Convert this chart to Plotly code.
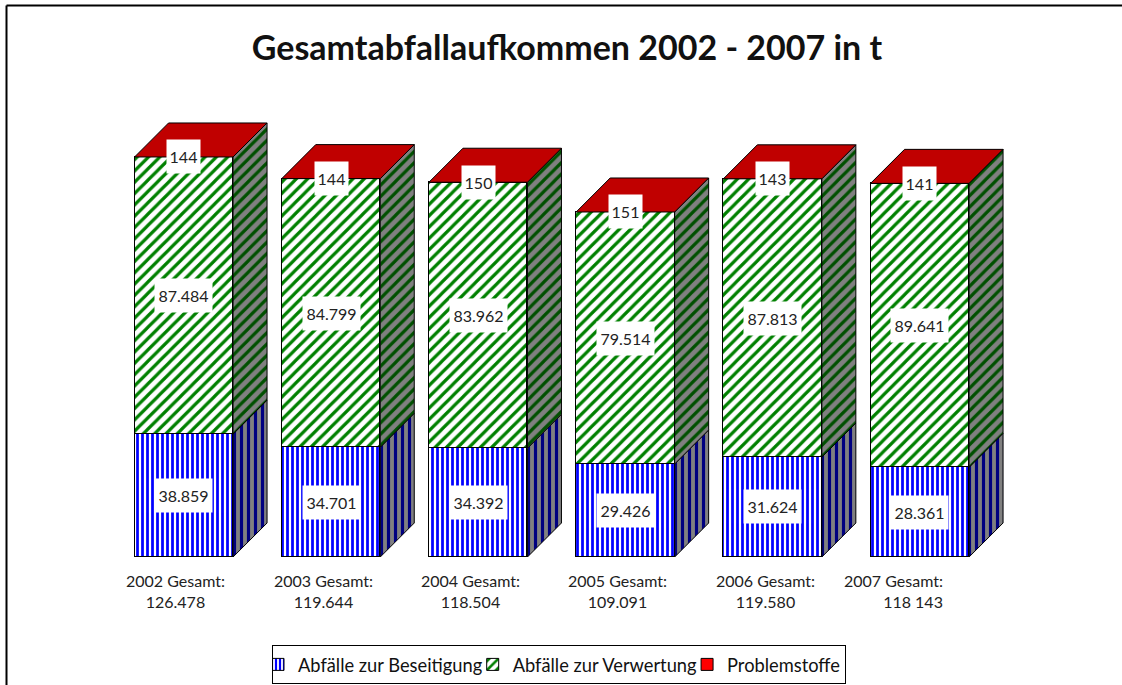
import plotly.graph_objects as go

years = ["2002", "2003", "2004", "2005", "2006", "2007"]
beseitigung = [38859, 34701, 34392, 29426, 31624, 28361]
verwertung = [87484, 84799, 83962, 79514, 87813, 89641]
problemstoffe = [144, 144, 150, 151, 143, 141]
gesamt_text = ["126.478", "119.644", "118.504", "109.091", "119.580", "118 143"]
label_beseitigung = ["38.859", "34.701", "34.392", "29.426", "31.624", "28.361"]
label_verwertung = ["87.484", "84.799", "83.962", "79.514", "87.813", "89.641"]
label_problem = ["144", "144", "150", "151", "143", "141"]
series_names = ["Abfälle zur Beseitigung", "Abfälle zur Verwertung", "Problemstoffe"]

W, H = 1122, 685
FONT = "Lato"
PITCH, X0 = 147.2, 183.8      # px between bars, px of first bar centre
Y0, PX_PER_T = 557, 400 / 126478
BAR_W = 98.5 / PITCH
DX, DY = 34 / PITCH, 34 / PX_PER_T

x_range = [(0 - X0) / PITCH, (W - X0) / PITCH]
y_range = [(Y0 - H) / PX_PER_T, Y0 / PX_PER_T]
xs = list(range(len(years)))

fig = go.Figure()
bar_styles = [
    dict(shape="|", fgcolor="#0000FF", bgcolor="white", size=5, solidity=0.55, fgopacity=1),
    dict(shape="/", fgcolor="#008000", bgcolor="white", size=8, solidity=0.4, fgopacity=1),
    dict(shape="", fgcolor="#FF0000", bgcolor="#FF0000"),
]
colors = ["#0000FF", "#008000", "#FF0000"]
for name, vals, pat, col in zip(series_names, [beseitigung, verwertung, problemstoffe], bar_styles, colors):
    fig.add_bar(x=xs, y=vals, name=name, width=BAR_W,
                marker=dict(color=col if not pat["shape"] else "white", pattern=pat,
                            line=dict(color="black", width=1)))


def side_trace(lows, highs, fg):
    px, py = [], []
    for i, (lo, hi) in enumerate(zip(lows, highs)):
        r = i + BAR_W / 2
        px += [r, r + DX, r + DX, r, r, None]
        py += [lo, lo + DY, hi + DY, hi, lo, None]
    return go.Scatter(x=px, y=py, mode="lines", fill="toself", fillcolor="#808080",
                      fillpattern=fg, line=dict(color="black", width=1),
                      hoverinfo="skip", showlegend=False)


b_top = beseitigung
v_top = [a + b for a, b in zip(beseitigung, verwertung)]
p_top = [a + b for a, b in zip(v_top, problemstoffe)]
fig.add_trace(side_trace([0] * 6, b_top,
                         dict(shape="|", fgcolor="#000080", bgcolor="#808080", size=7, solidity=0.45, fgopacity=1)))
fig.add_trace(side_trace(b_top, p_top,
                         dict(shape="/", fgcolor="#005000", bgcolor="#808080", size=8, solidity=0.4, fgopacity=1)))

tx, ty = [], []
for i, t in enumerate(p_top):
    l, r = i - BAR_W / 2, i + BAR_W / 2
    tx += [l, r, r + DX, l + DX, l, None]
    ty += [t, t, t + DY, t + DY, t, None]
fig.add_trace(go.Scatter(x=tx, y=ty, mode="lines", fill="toself", fillcolor="#C00000",
                         line=dict(color="black", width=1), hoverinfo="skip", showlegend=False))

box = dict(showarrow=False, bgcolor="white", borderpad=0, height=33, valign="middle", align="center",
           font=dict(family=FONT, size=16, color="#222222"))
for i in xs:
    fig.add_annotation(x=i, y=b_top[i] / 2, text=label_beseitigung[i], width=57, **box)
    fig.add_annotation(x=i, y=b_top[i] + verwertung[i] / 2, text=label_verwertung[i], width=57, **box)
    fig.add_annotation(x=i, y=p_top[i], text=label_problem[i], width=33, **box)

shifts = [-8.5, -7.2, -7.4, -7.6, -6.8, -26]
for i in xs:
    fig.add_annotation(x=i, y=0, yanchor="top", yshift=-12, xshift=shifts[i], showarrow=False,
                       text=f"{years[i]} Gesamt:<br>{gesamt_text[i]}",
                       align="right" if i == 5 else "center",
                       font=dict(family=FONT, size=16, color="#222222"))

# frame lines on the top and left edge of the picture
fig.add_shape(type="line", xref="paper", yref="paper", x0=6.5 / W, x1=1, y0=1 - 5.5 / H, y1=1 - 5.5 / H,
              line=dict(color="black", width=2))
fig.add_shape(type="line", xref="paper", yref="paper", x0=6.5 / W, x1=6.5 / W, y0=0, y1=1 - 5.5 / H,
              line=dict(color="black", width=2))

fig.update_layout(
    width=W, height=H, margin=dict(l=0, r=0, t=0, b=0), autosize=False,
    paper_bgcolor="white", plot_bgcolor="white", barmode="stack", bargap=0,
    font=dict(family=FONT, color="#111111"),
    title=dict(text="<b>Gesamtabfallaufkommen 2002 - 2007 in t</b>", x=567 / W, xanchor="center",
               y=1 - 48 / H, yanchor="middle", font=dict(family=FONT, size=34, color="#111111")),
    xaxis=dict(range=x_range, visible=False, fixedrange=True),
    yaxis=dict(range=y_range, visible=False, fixedrange=True),
    legend=dict(orientation="h", x=272 / W, xanchor="left", y=1 - 645 / H, yanchor="top",
                bgcolor="white", bordercolor="black", borderwidth=1, traceorder="normal",
                indentation=-15, itemwidth=30,
                font=dict(family=FONT, size=18.3, color="#111111"), itemclick=False, itemdoubleclick=False),
)
fig.write_html("out.html", config={"displayModeBar": False},
               post_script="document.body.style.margin='0';document.body.style.overflow='hidden';")
